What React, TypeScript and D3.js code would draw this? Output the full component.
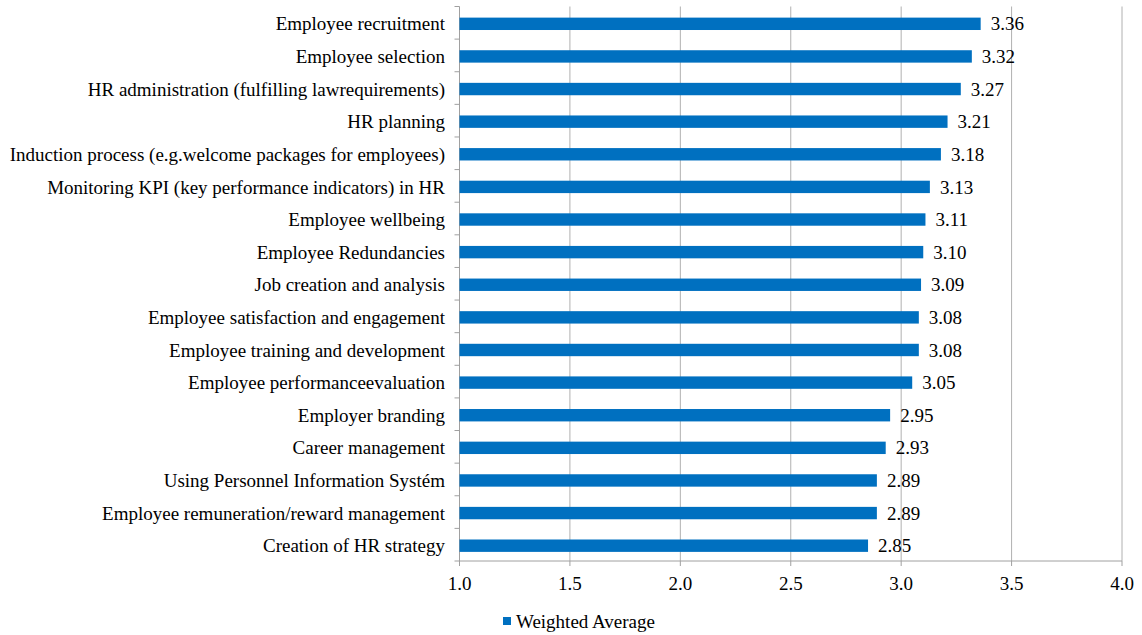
import React from "react";
import * as d3 from "d3";

const categories = [
  "Employee recruitment",
  "Employee selection",
  "HR administration (fulfilling lawrequirements)",
  "HR planning",
  "Induction process (e.g.welcome packages for employees)",
  "Monitoring KPI (key performance indicators) in HR",
  "Employee wellbeing",
  "Employee Redundancies",
  "Job creation and analysis",
  "Employee satisfaction and engagement",
  "Employee training and development",
  "Employee performanceevaluation",
  "Employer branding",
  "Career management",
  "Using Personnel Information Systém",
  "Employee remuneration/reward management",
  "Creation of HR strategy",
];
const values = [3.36, 3.32, 3.27, 3.21, 3.18, 3.13, 3.11, 3.1, 3.09, 3.08, 3.08, 3.05, 2.95, 2.93, 2.89, 2.89, 2.85];
const xTicks = [1.0, 1.5, 2.0, 2.5, 3.0, 3.5, 4.0];
const seriesName = "Weighted Average";

export default function App() {
  const W = 1142, H = 635;
  const left = 459.5, right = 1122, top = 6.5, bottom = 561;
  const x = d3.scaleLinear().domain([1, 4]).range([left, right]);
  const y = d3.scaleBand().domain(categories).range([top + 1, bottom + 1]).paddingInner(0.62).paddingOuter(0.31);
  const band = (bottom - top) / categories.length;
  const font = "'Liberation Serif', 'Times New Roman', serif";
  const color = "#0070C0";
  const fs = 19;
  return (
    <svg width={W} height={H} style={{ position: "absolute", left: 0, top: 0, background: "#fff" }} fontFamily={font}>
      {xTicks.map((t) => (
        <g key={t}>
          {t > 1 && <line x1={x(t)} x2={x(t)} y1={top} y2={bottom} stroke="#b0b0b0" strokeWidth={1} />}
          <line x1={x(t)} x2={x(t)} y1={bottom} y2={bottom + 5} stroke="#a0a0a0" />
          <text x={x(t)} y={590} textAnchor="middle" fontSize={fs} fill="#000">{t.toFixed(1)}</text>
        </g>
      ))}
      <line x1={left} x2={right} y1={bottom} y2={bottom} stroke="#a0a0a0" />
      <line x1={left} x2={left} y1={top} y2={bottom} stroke="#a0a0a0" />
      {d3.range(categories.length + 1).map((i) => (
        <line key={i} x1={left - 5} x2={left} y1={top + i * band} y2={top + i * band} stroke="#a0a0a0" />
      ))}
      {categories.map((c, i) => {
        const yc = (y(c) as number) + y.bandwidth() / 2;
        return (
          <g key={c}>
            <rect x={x(1)} y={y(c)} width={x(values[i]) - x(1)} height={y.bandwidth()} fill={color} />
            <text x={445} y={yc} dy="0.35em" textAnchor="end" fontSize={fs} fill="#000">{c}</text>
            <text x={x(values[i]) + 10} y={yc} dy="0.35em" fontSize={fs} fill="#000">{values[i].toFixed(2)}</text>
          </g>
        );
      })}
      <rect x={503} y={617} width={8} height={8} fill={color} />
      <text x={516} y={621} dy="0.35em" fontSize={fs} fill="#000">{seriesName}</text>
    </svg>
  );
}
